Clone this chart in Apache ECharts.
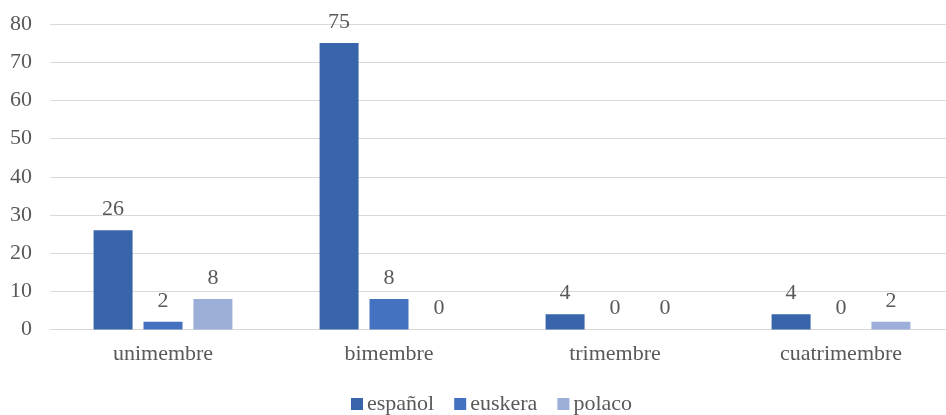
<!DOCTYPE html>
<html>
<head>
<meta charset="utf-8">
<script src="https://cdn.jsdelivr.net/npm/echarts@6/dist/echarts.min.js"></script>
<style>
  html, body { margin: 0; padding: 0; background: #fff; overflow: hidden; }
  body { width: 946px; height: 415px; }
  /* plot area runs a little past the right edge of the page */
  #chart { width: 954px; height: 415px; }
</style>
</head>
<body>
<div id="chart"></div>
<script>
// Categorías y valores por lengua
const categories = ['unimembre', 'bimembre', 'trimembre', 'cuatrimembre'];
const espanol = [26, 75, 4, 4];
const euskera = [2, 8, 0, 0];
const polaco = [8, 0, 0, 2];
const yTicks = [0, 10, 20, 30, 40, 50, 60, 70, 80];

const FONT = '"Liberation Serif", "Times New Roman", serif';
const TEXT = '#595959';

const labelStyle = {
  show: true,
  position: 'top',
  distance: 10,
  color: TEXT,
  fontFamily: FONT,
  fontSize: 22
};

function barSeries(name, data, color) {
  return {
    name: name,
    type: 'bar',
    data: data,
    barWidth: 39,
    barGap: '28%',
    itemStyle: { color: color },
    label: labelStyle,
    emphasis: { disabled: true }
  };
}

const chart = echarts.init(document.getElementById('chart'), null, { renderer: 'canvas' });
chart.setOption({
  animation: false,
  textStyle: { fontFamily: FONT },
  grid: { left: 50, right: 0, top: 24, bottom: 85.5, containLabel: false },
  legend: {
    left: 351,
    top: 393,
    padding: 0,
    itemWidth: 12,
    itemHeight: 12,
    itemGap: 20,
    icon: 'rect',
    textStyle: { color: TEXT, fontFamily: FONT, fontSize: 22, padding: [0, 0, 0, -1] },
    data: ['español', 'euskera', 'polaco']
  },
  xAxis: {
    type: 'category',
    data: categories,
    axisLine: { lineStyle: { color: '#D9D9D9', width: 1 } },
    axisTick: { show: false },
    axisLabel: { color: TEXT, fontFamily: FONT, fontSize: 22, margin: 14 }
  },
  yAxis: {
    type: 'value',
    min: yTicks[0],
    max: yTicks[yTicks.length - 1],
    interval: yTicks[1] - yTicks[0],
    axisLine: { show: false },
    axisTick: { show: false },
    splitLine: { lineStyle: { color: '#D9D9D9', width: 1 } },
    axisLabel: { color: TEXT, fontFamily: FONT, fontSize: 22, margin: 18 }
  },
  series: [
    barSeries('español', espanol, '#3864A9'),
    barSeries('euskera', euskera, '#4472C1'),
    barSeries('polaco', polaco, '#9BAFD9')
  ]
});
</script>
</body>
</html>
